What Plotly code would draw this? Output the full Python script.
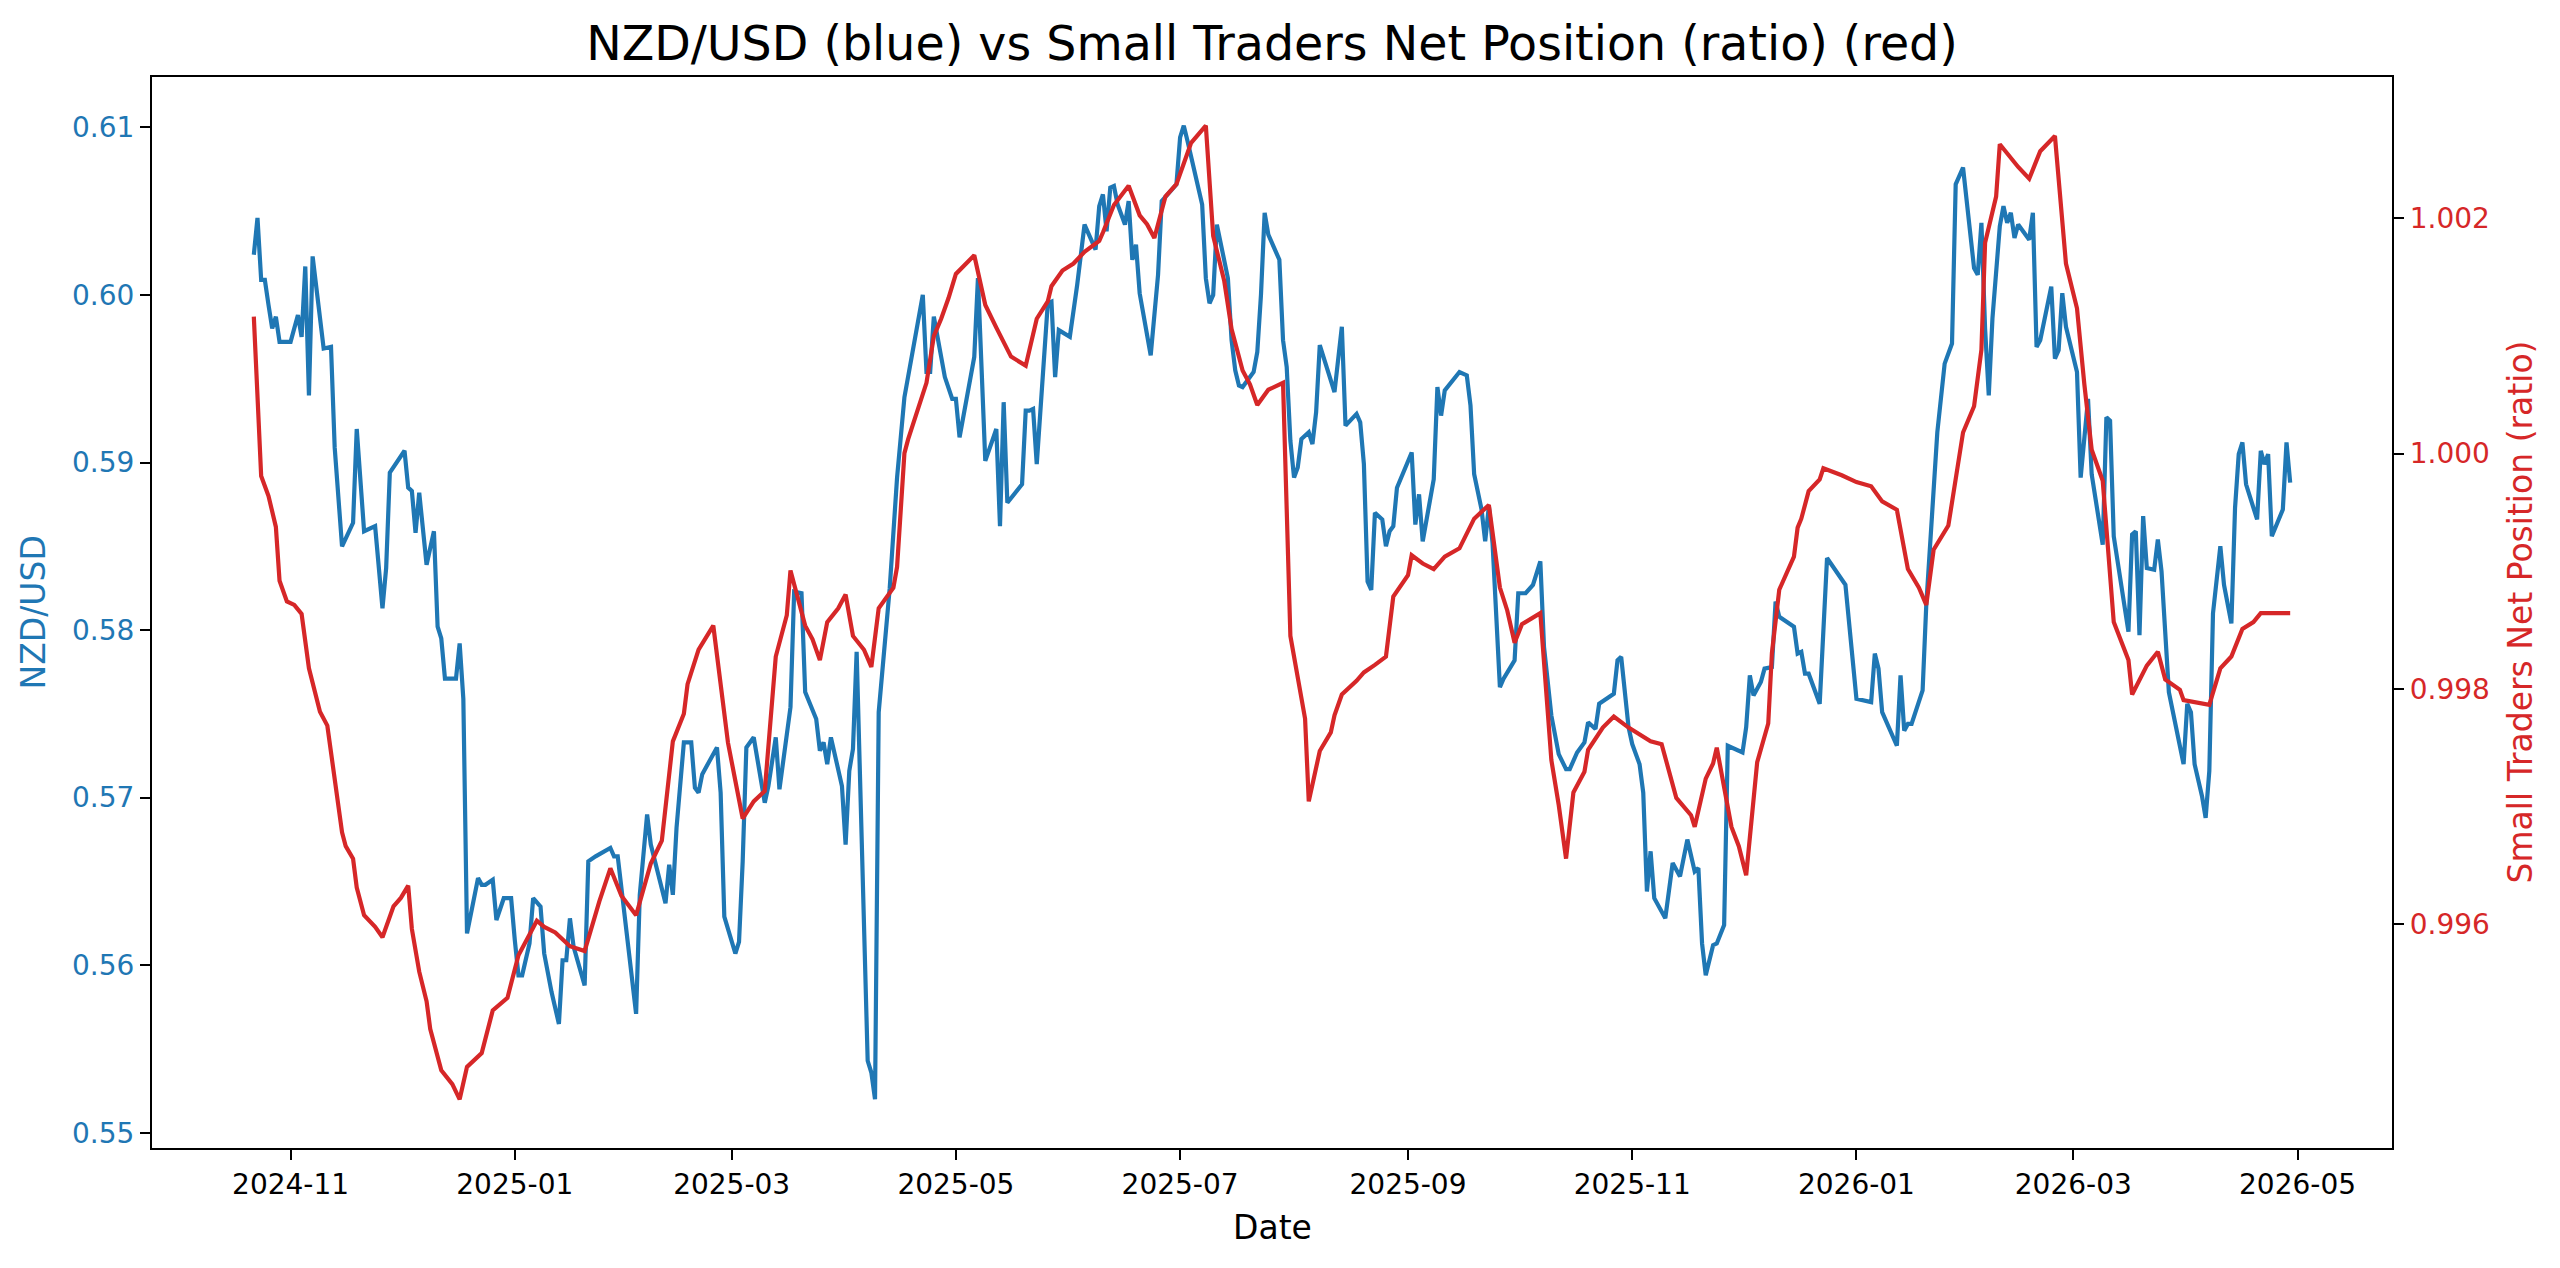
import pandas as pd
import plotly.graph_objects as go

# ---------------- data ----------------
blue_dates = [
    "2024-10-22","2024-10-23","2024-10-24","2024-10-25","2024-10-26","2024-10-27","2024-10-28","2024-10-29",
    "2024-11-01","2024-11-03","2024-11-04","2024-11-05","2024-11-06","2024-11-07","2024-11-10","2024-11-12",
    "2024-11-13","2024-11-15","2024-11-18","2024-11-19","2024-11-21","2024-11-24","2024-11-26","2024-11-27",
    "2024-11-28","2024-12-02","2024-12-03","2024-12-04","2024-12-05","2024-12-06","2024-12-08","2024-12-10",
    "2024-12-11","2024-12-12","2024-12-13","2024-12-16","2024-12-17","2024-12-18","2024-12-19","2024-12-22",
    "2024-12-23","2024-12-24","2024-12-26","2024-12-27","2024-12-29","2024-12-31","2025-01-01","2025-01-02",
    "2025-01-03","2025-01-05","2025-01-06","2025-01-08","2025-01-09","2025-01-11","2025-01-13","2025-01-14",
    "2025-01-15","2025-01-16","2025-01-17","2025-01-20","2025-01-21","2025-01-23","2025-01-27","2025-01-28",
    "2025-01-29","2025-02-03","2025-02-04","2025-02-06","2025-02-07","2025-02-11","2025-02-12","2025-02-13",
    "2025-02-14","2025-02-16","2025-02-18","2025-02-19","2025-02-20","2025-02-21","2025-02-25","2025-02-26",
    "2025-02-27","2025-03-02","2025-03-03","2025-03-04","2025-03-05","2025-03-07","2025-03-10","2025-03-11",
    "2025-03-13","2025-03-14","2025-03-17","2025-03-18","2025-03-20","2025-03-21","2025-03-24","2025-03-25",
    "2025-03-26","2025-03-27","2025-03-28","2025-03-31","2025-04-01","2025-04-02","2025-04-03","2025-04-04",
    "2025-04-07","2025-04-08","2025-04-09","2025-04-10","2025-04-13","2025-04-15","2025-04-17","2025-04-22",
    "2025-04-23","2025-04-24","2025-04-25","2025-04-28","2025-04-30","2025-05-01","2025-05-02","2025-05-06",
    "2025-05-07","2025-05-09","2025-05-12","2025-05-13","2025-05-14","2025-05-15","2025-05-19","2025-05-20",
    "2025-05-21","2025-05-22","2025-05-23","2025-05-26","2025-05-27","2025-05-28","2025-05-29","2025-06-01",
    "2025-06-03","2025-06-05","2025-06-08","2025-06-09","2025-06-10","2025-06-11","2025-06-12","2025-06-13",
    "2025-06-14","2025-06-16","2025-06-17","2025-06-18","2025-06-19","2025-06-20","2025-06-23","2025-06-24",
    "2025-06-25","2025-06-26","2025-06-30","2025-07-01","2025-07-02","2025-07-03","2025-07-07","2025-07-08",
    "2025-07-09","2025-07-10","2025-07-11","2025-07-14","2025-07-15","2025-07-16","2025-07-17","2025-07-18",
    "2025-07-21","2025-07-22","2025-07-23","2025-07-24","2025-07-25","2025-07-28","2025-07-29","2025-07-30",
    "2025-07-31","2025-08-01","2025-08-02","2025-08-03","2025-08-05","2025-08-06","2025-08-07","2025-08-08",
    "2025-08-10","2025-08-12","2025-08-14","2025-08-15","2025-08-18","2025-08-19","2025-08-20","2025-08-21",
    "2025-08-22","2025-08-23","2025-08-25","2025-08-26","2025-08-27","2025-08-28","2025-08-29","2025-08-31",
    "2025-09-02","2025-09-03","2025-09-04","2025-09-05","2025-09-08","2025-09-09","2025-09-10","2025-09-11",
    "2025-09-15","2025-09-17","2025-09-18","2025-09-19","2025-09-21","2025-09-22","2025-09-23","2025-09-24",
    "2025-09-26","2025-09-27","2025-09-30","2025-10-01","2025-10-03","2025-10-05","2025-10-07","2025-10-08",
    "2025-10-10","2025-10-12","2025-10-14","2025-10-15","2025-10-17","2025-10-19","2025-10-20","2025-10-22",
    "2025-10-23","2025-10-27","2025-10-28","2025-10-29","2025-10-31","2025-11-01","2025-11-03","2025-11-04",
    "2025-11-05","2025-11-06","2025-11-07","2025-11-10","2025-11-11","2025-11-12","2025-11-14","2025-11-16",
    "2025-11-18","2025-11-19","2025-11-20","2025-11-21","2025-11-23","2025-11-24","2025-11-26","2025-11-27",
    "2025-12-01","2025-12-02","2025-12-03","2025-12-04","2025-12-06","2025-12-07","2025-12-09","2025-12-10",
    "2025-12-11","2025-12-15","2025-12-16","2025-12-17","2025-12-18","2025-12-19","2025-12-22","2025-12-24",
    "2025-12-29","2026-01-01","2026-01-05","2026-01-06","2026-01-07","2026-01-08","2026-01-12","2026-01-13",
    "2026-01-14","2026-01-15","2026-01-16","2026-01-19","2026-01-20","2026-01-23","2026-01-25","2026-01-27",
    "2026-01-28","2026-01-30","2026-02-02","2026-02-03","2026-02-04","2026-02-05","2026-02-06","2026-02-07",
    "2026-02-09","2026-02-10","2026-02-11","2026-02-12","2026-02-13","2026-02-14","2026-02-17","2026-02-18",
    "2026-02-19","2026-02-20","2026-02-23","2026-02-24","2026-02-25","2026-02-26","2026-02-27","2026-03-02",
    "2026-03-03","2026-03-05","2026-03-06","2026-03-09","2026-03-10","2026-03-11","2026-03-12","2026-03-14",
    "2026-03-16","2026-03-17","2026-03-18","2026-03-19","2026-03-20","2026-03-21","2026-03-23","2026-03-24",
    "2026-03-25","2026-03-27","2026-03-31","2026-04-01","2026-04-02","2026-04-03","2026-04-05","2026-04-06",
    "2026-04-07","2026-04-08","2026-04-10","2026-04-11","2026-04-13","2026-04-14","2026-04-15","2026-04-16",
    "2026-04-17","2026-04-20","2026-04-21","2026-04-22","2026-04-23","2026-04-24","2026-04-27","2026-04-28",
    "2026-04-29",
]
blue_values = [
    0.6024,0.6046,0.6009,0.6009,0.5994,0.5980,0.5987,0.5972,
    0.5972,0.5988,0.5975,0.6017,0.5940,0.6023,0.5968,0.5969,
    0.5909,0.5850,0.5864,0.5920,0.5859,0.5862,0.5813,0.5837,
    0.5894,0.5907,0.5885,0.5883,0.5858,0.5882,0.5839,0.5859,
    0.5802,0.5795,0.5771,0.5771,0.5792,0.5759,0.5619,0.5652,
    0.5648,0.5648,0.5651,0.5627,0.5640,0.5640,0.5615,0.5594,
    0.5594,0.5613,0.5640,0.5635,0.5607,0.5584,0.5565,0.5603,
    0.5603,0.5628,0.5611,0.5588,0.5662,0.5665,0.5670,0.5665,
    0.5665,0.5571,0.5642,0.5690,0.5672,0.5637,0.5660,0.5642,
    0.5682,0.5733,0.5733,0.5706,0.5703,0.5714,0.5730,0.5703,
    0.5629,0.5607,0.5614,0.5662,0.5730,0.5736,0.5697,0.5707,
    0.5736,0.5705,0.5754,0.5823,0.5822,0.5763,0.5747,0.5728,
    0.5733,0.5720,0.5736,0.5707,0.5672,0.5716,0.5729,0.5787,
    0.5543,0.5536,0.5520,0.5751,0.5825,0.5891,0.5939,0.6000,
    0.5954,0.5954,0.5987,0.5951,0.5938,0.5938,0.5915,0.5963,
    0.6010,0.5901,0.5920,0.5862,0.5936,0.5876,0.5887,0.5931,
    0.5931,0.5932,0.5899,0.5995,0.5996,0.5951,0.5979,0.5975,
    0.6006,0.6042,0.6027,0.6053,0.6060,0.6038,0.6064,0.6065,
    0.6054,0.6042,0.6056,0.6021,0.6030,0.6001,0.5964,0.5992,
    0.6012,0.6056,0.6066,0.6094,0.6101,0.6092,0.6054,0.6010,
    0.5995,0.6000,0.6042,0.6010,0.5973,0.5955,0.5946,0.5945,
    0.5954,0.5966,0.6000,0.6049,0.6036,0.6021,0.5973,0.5957,
    0.5913,0.5891,0.5897,0.5914,0.5918,0.5911,0.5930,0.5970,
    0.5955,0.5942,0.5981,0.5922,0.5929,0.5924,0.5899,0.5829,
    0.5824,0.5870,0.5866,0.5850,0.5859,0.5862,0.5885,0.5896,
    0.5906,0.5863,0.5881,0.5853,0.5890,0.5945,0.5928,0.5943,
    0.5954,0.5952,0.5934,0.5893,0.5872,0.5853,0.5874,0.5852,
    0.5766,0.5771,0.5782,0.5822,0.5822,0.5827,0.5841,0.5790,
    0.5749,0.5726,0.5717,0.5717,0.5727,0.5733,0.5745,0.5741,
    0.5756,0.5762,0.5782,0.5784,0.5742,0.5732,0.5720,0.5703,
    0.5644,0.5668,0.5640,0.5628,0.5646,0.5661,0.5653,0.5675,
    0.5656,0.5658,0.5613,0.5594,0.5612,0.5613,0.5624,0.5731,
    0.5727,0.5742,0.5773,0.5761,0.5769,0.5777,0.5778,0.5817,
    0.5808,0.5802,0.5786,0.5787,0.5774,0.5774,0.5756,0.5843,
    0.5827,0.5759,0.5757,0.5786,0.5777,0.5751,0.5731,0.5773,
    0.5740,0.5744,0.5744,0.5764,0.5815,0.5918,0.5959,0.5971,
    0.6066,0.6076,0.6016,0.6012,0.6043,0.5980,0.5940,0.5986,
    0.6041,0.6053,0.6043,0.6049,0.6034,0.6042,0.6033,0.6049,
    0.5969,0.5973,0.6005,0.5962,0.5967,0.6001,0.5981,0.5954,
    0.5891,0.5938,0.5893,0.5851,0.5927,0.5925,0.5856,0.5827,
    0.5799,0.5857,0.5859,0.5797,0.5868,0.5837,0.5836,0.5854,
    0.5835,0.5763,0.5720,0.5756,0.5751,0.5720,0.5701,0.5688,
    0.5716,0.5810,0.5850,0.5827,0.5804,0.5873,0.5905,0.5912,
    0.5887,0.5866,0.5907,0.5899,0.5905,0.5856,0.5872,0.5912,
    0.5888,
]

red_dates = [
    "2024-10-22","2024-10-23","2024-10-24","2024-10-26","2024-10-28","2024-10-29","2024-10-30","2024-10-31",
    "2024-11-02","2024-11-04","2024-11-06","2024-11-08","2024-11-09","2024-11-11","2024-11-13","2024-11-15",
    "2024-11-16","2024-11-18","2024-11-19","2024-11-21","2024-11-24","2024-11-26","2024-11-29","2024-12-01",
    "2024-12-03","2024-12-04","2024-12-06","2024-12-08","2024-12-09","2024-12-12","2024-12-15","2024-12-17",
    "2024-12-19","2024-12-23","2024-12-26","2024-12-30","2025-01-02","2025-01-07","2025-01-09","2025-01-12",
    "2025-01-16","2025-01-20","2025-01-24","2025-01-27","2025-01-30","2025-02-03","2025-02-07","2025-02-10",
    "2025-02-13","2025-02-16","2025-02-17","2025-02-20","2025-02-24","2025-02-28","2025-03-02","2025-03-04",
    "2025-03-07","2025-03-10","2025-03-13","2025-03-16","2025-03-17","2025-03-21","2025-03-23","2025-03-25",
    "2025-03-27","2025-03-30","2025-04-01","2025-04-03","2025-04-06","2025-04-08","2025-04-10","2025-04-14",
    "2025-04-15","2025-04-17","2025-04-18","2025-04-21","2025-04-23","2025-04-25","2025-04-27","2025-04-29",
    "2025-05-01","2025-05-06","2025-05-09","2025-05-12","2025-05-14","2025-05-16","2025-05-20","2025-05-23",
    "2025-05-26","2025-05-27","2025-05-30","2025-06-02","2025-06-05","2025-06-09","2025-06-10","2025-06-13",
    "2025-06-17","2025-06-20","2025-06-22","2025-06-24","2025-06-27","2025-06-30","2025-07-02","2025-07-04",
    "2025-07-08","2025-07-10","2025-07-13","2025-07-15","2025-07-18","2025-07-20","2025-07-22","2025-07-25",
    "2025-07-29","2025-07-30","2025-07-31","2025-08-04","2025-08-05","2025-08-08","2025-08-11","2025-08-12",
    "2025-08-14","2025-08-18","2025-08-20","2025-08-23","2025-08-26","2025-08-28","2025-09-01","2025-09-02",
    "2025-09-05","2025-09-08","2025-09-11","2025-09-15","2025-09-19","2025-09-23","2025-09-26","2025-09-28",
    "2025-09-30","2025-10-02","2025-10-07","2025-10-10","2025-10-12","2025-10-14","2025-10-16","2025-10-19",
    "2025-10-20","2025-10-24","2025-10-27","2025-10-31","2025-11-04","2025-11-06","2025-11-09","2025-11-13",
    "2025-11-17","2025-11-18","2025-11-21","2025-11-23","2025-11-24","2025-11-28","2025-11-30","2025-12-02",
    "2025-12-05","2025-12-08","2025-12-09","2025-12-11","2025-12-15","2025-12-16","2025-12-17","2025-12-19",
    "2025-12-22","2025-12-23","2025-12-28","2026-01-01","2026-01-05","2026-01-08","2026-01-12","2026-01-15",
    "2026-01-18","2026-01-20","2026-01-22","2026-01-26","2026-01-30","2026-02-02","2026-02-04","2026-02-05",
    "2026-02-08","2026-02-09","2026-02-14","2026-02-17","2026-02-20","2026-02-24","2026-02-27","2026-03-02",
    "2026-03-04","2026-03-06","2026-03-09","2026-03-12","2026-03-16","2026-03-17","2026-03-21","2026-03-24",
    "2026-03-26","2026-03-30","2026-03-31","2026-04-07","2026-04-10","2026-04-13","2026-04-16","2026-04-19",
    "2026-04-21","2026-04-29",
]
red_values = [
    1.001165,1.000531,0.999810,0.999640,0.999377,0.998919,0.998832,0.998744,
    0.998714,0.998638,0.998175,0.997923,0.997806,0.997688,0.997219,0.996780,
    0.996663,0.996557,0.996311,0.996076,0.995977,0.995889,0.996152,0.996223,
    0.996328,0.995959,0.995596,0.995344,0.995109,0.994758,0.994640,0.994511,
    0.994787,0.994904,0.995267,0.995373,0.995736,0.996029,0.995977,0.995930,
    0.995813,0.995772,0.996194,0.996475,0.996241,0.996076,0.996516,0.996709,
    0.997554,0.997788,0.998040,0.998333,0.998538,0.997542,0.997219,0.996897,
    0.997044,0.997132,0.998275,0.998626,0.999007,0.998538,0.998421,0.998245,
    0.998568,0.998685,0.998802,0.998450,0.998333,0.998187,0.998685,0.998861,
    0.999037,1.000004,1.000121,1.000414,1.000602,1.000999,1.001147,1.001323,
    1.001528,1.001686,1.001264,1.001071,1.000942,1.000825,1.000748,1.001147,
    1.001294,1.001423,1.001557,1.001616,1.001716,1.001809,1.001880,1.002114,
    1.002278,1.002026,1.001950,1.001833,1.002185,1.002290,1.002466,1.002642,
    1.002788,1.001850,1.001469,1.001059,1.000707,1.000590,1.000414,1.000543,
    1.000602,0.999476,0.998450,0.997747,0.997044,0.997472,0.997630,0.997776,
    0.997952,0.998069,0.998140,0.998204,0.998275,0.998785,0.998966,0.999136,
    0.999066,0.999019,0.999125,0.999195,0.999447,0.999564,0.998861,0.998667,
    0.998392,0.998550,0.998644,0.997395,0.997014,0.996557,0.997120,0.997296,
    0.997483,0.997671,0.997765,0.997671,0.997589,0.997554,0.997530,0.997073,
    0.996926,0.996827,0.997237,0.997366,0.997501,0.996827,0.996663,0.996416,
    0.997378,0.997706,0.998304,0.998843,0.999125,0.999371,0.999447,0.999681,
    0.999781,0.999875,0.999816,0.999758,0.999723,0.999594,0.999523,0.999019,
    0.998861,0.998714,0.999183,0.999388,1.000180,1.000403,1.000883,1.001792,
    1.002185,1.002630,1.002437,1.002337,1.002571,1.002700,1.001616,1.001235,
    1.000590,1.000033,0.999769,0.998568,0.998245,0.997952,0.998198,0.998316,
    0.998081,0.997993,0.997905,0.997864,0.998175,0.998275,0.998509,0.998568,
    0.998644,0.998644,
]

left_ticks = [0.55, 0.56, 0.57, 0.58, 0.59, 0.60, 0.61]
right_ticks = [0.996, 0.998, 1.000, 1.002]

BLUE = "#1f77b4"
RED = "#d62728"
FONT = "DejaVu Sans"

# ---------------- ranges (matplotlib-style 5% margins) ----------------
bd = pd.to_datetime(blue_dates)
rd = pd.to_datetime(red_dates)
xmin = min(bd.min(), rd.min())
xmax = max(bd.max(), rd.max())
xpad = (xmax - xmin) * 0.05
xrange_ = [xmin - xpad, xmax + xpad]

def padded(vals):
    lo, hi = min(vals), max(vals)
    p = (hi - lo) * 0.05
    return [lo - p, hi + p]

fig = go.Figure()
fig.add_trace(go.Scatter(x=bd, y=blue_values, mode="lines",
                         line=dict(color=BLUE, width=4.2), name="NZD/USD", yaxis="y"))
fig.add_trace(go.Scatter(x=rd, y=red_values, mode="lines",
                         line=dict(color=RED, width=4.2), name="Small Traders Net Position (ratio)",
                         yaxis="y2"))

W, H = 2560, 1268
L, R, T, B = 152, 168, 77, 120
pw, ph = W - L - R, H - T - B

fig.update_layout(
    width=W, height=H,
    margin=dict(l=L, r=R, t=T, b=B, pad=0),
    paper_bgcolor="white", plot_bgcolor="white",
    showlegend=False,
    font=dict(family=FONT, color="black"),
    title=dict(text="NZD/USD (blue) vs Small Traders Net Position (ratio) (red)",
               x=0.5, xref="paper", xanchor="center",
               y=1 - 43 / H, yref="container", yanchor="middle",
               font=dict(family=FONT, size=47.5, color="black")),
    xaxis=dict(
        type="date", range=xrange_,
        tick0="2024-11-01", dtick="M2", tickformat="%Y-%m",
        ticks="outside", ticklen=10, tickwidth=2.2, tickcolor="black",
        showline=True, linecolor="black", linewidth=2.2, mirror=True,
        showgrid=False, zeroline=False,
        tickfont=dict(family=FONT, size=28, color="black"),
    ),
    yaxis=dict(
        range=padded(blue_values), tickvals=left_ticks, tickformat=".2f",
        ticks="outside", ticklen=10, tickwidth=2.2, tickcolor="black",
        showline=True, linecolor="black", linewidth=2.2, mirror=True,
        showgrid=False, zeroline=False,
        tickfont=dict(family=FONT, size=28, color=BLUE),
    ),
    yaxis2=dict(
        range=padded(red_values), tickvals=right_ticks, tickformat=".3f",
        overlaying="y", side="right",
        ticks="outside", ticklen=10, tickwidth=2.2, tickcolor="black",
        showline=True, linecolor="black", linewidth=2.2,
        showgrid=False, zeroline=False,
        tickfont=dict(family=FONT, size=28, color=RED),
    ),
    annotations=[
        dict(text="Date", xref="paper", yref="paper", x=0.5, y=-(1227 - (T + ph)) / ph,
             xanchor="center", yanchor="middle", showarrow=False,
             font=dict(family=FONT, size=33, color="black")),
        dict(text="NZD/USD", xref="paper", yref="paper", x=(33 - L) / pw, y=0.5,
             xanchor="center", yanchor="middle", textangle=-90, showarrow=False,
             font=dict(family=FONT, size=33, color=BLUE)),
        dict(text="Small Traders Net Position (ratio)", xref="paper", yref="paper",
             x=(2520 - L) / pw, y=0.5, xanchor="center", yanchor="middle",
             textangle=-90, showarrow=False,
             font=dict(family=FONT, size=33, color=RED)),
    ],
)

fig.write_html("out.html")
